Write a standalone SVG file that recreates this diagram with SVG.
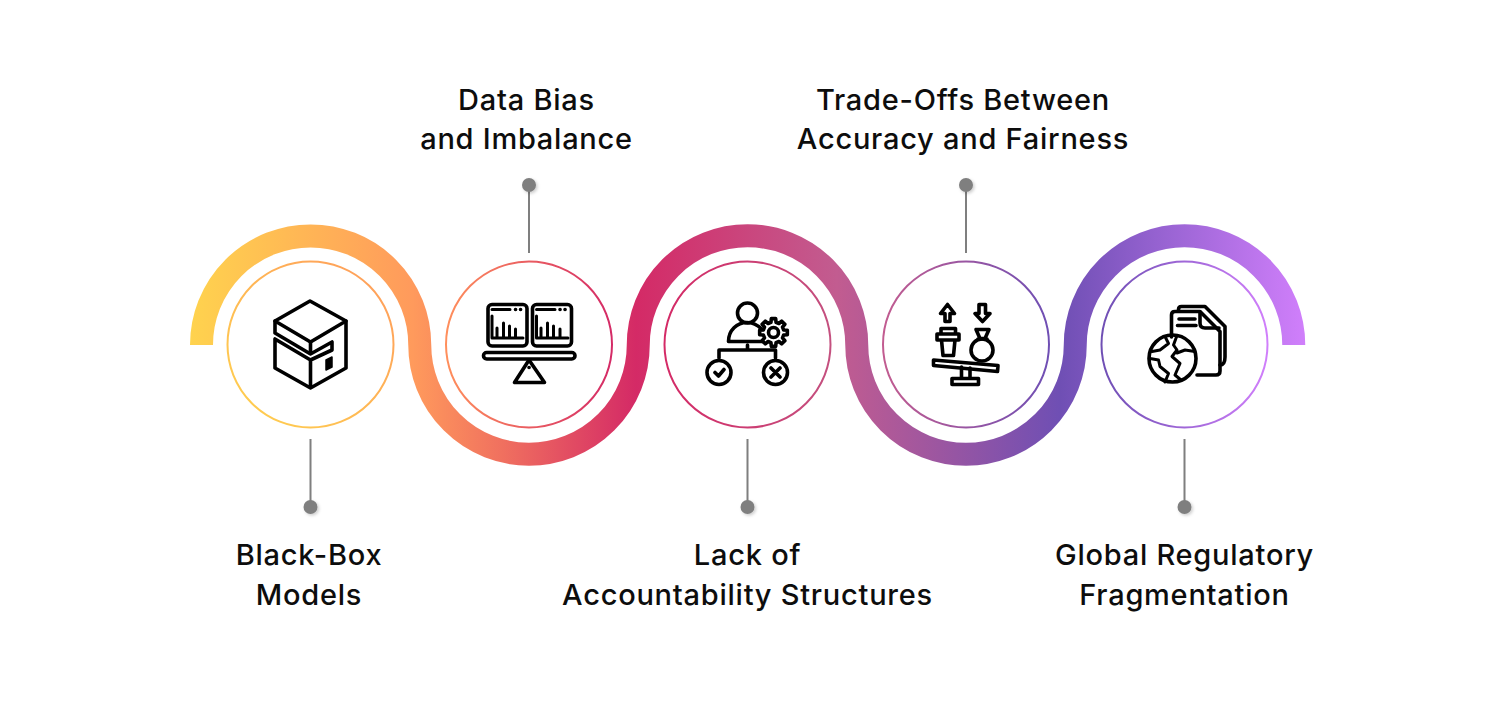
<svg xmlns="http://www.w3.org/2000/svg" width="1501" height="713" viewBox="0 0 1501 713">
<style>
.lbl{font-family:Inter,"Liberation Sans",sans-serif;font-size:29px;font-weight:500;letter-spacing:.75px;fill:#0d0d0d;text-anchor:middle}
.ring{fill:#fff;stroke-width:2}
.ico{fill:none;stroke:#000;stroke-width:3.6;stroke-linejoin:round;stroke-linecap:round}
.thin{stroke-width:3}
.lead{stroke:#7f7f7f;stroke-width:2;fill:none}
.dot{fill:#7f7f7f;filter:url(#sh)}
</style>
<defs>
<filter id="sh" x="-50%" y="-50%" width="200%" height="200%"><feDropShadow dx="1.5" dy="1.5" stdDeviation="1.5" flood-color="#000" flood-opacity=".2"/></filter>
<linearGradient id="rib" gradientUnits="userSpaceOnUse" x1="190" y1="0" x2="1305" y2="0">
<stop offset="0" stop-color="#FFD34E"/><stop offset=".2" stop-color="#FF9A5C"/><stop offset=".28" stop-color="#F0705F"/><stop offset=".4" stop-color="#D42A66"/><stop offset=".58" stop-color="#C25C90"/><stop offset=".78" stop-color="#6F4FB4"/><stop offset="1" stop-color="#D07FFB"/>
</linearGradient>
<linearGradient id="r1" x1="0" y1="1" x2="1" y2="0"><stop offset="0" stop-color="#FFD34E"/><stop offset="1" stop-color="#FF9A5C"/></linearGradient>
<linearGradient id="r2" x1="0" y1="0" x2="1" y2="0"><stop offset="0" stop-color="#FF8F5C"/><stop offset="1" stop-color="#D42A66"/></linearGradient>
<linearGradient id="r3" x1="0" y1="0" x2="1" y2="0"><stop offset="0" stop-color="#D42A66"/><stop offset="1" stop-color="#C4507F"/></linearGradient>
<linearGradient id="r4" x1="0" y1="0" x2="1" y2="0"><stop offset="0" stop-color="#C25C90"/><stop offset="1" stop-color="#6F4FB4"/></linearGradient>
<linearGradient id="r5" x1="0" y1="0" x2="1" y2="0"><stop offset="0" stop-color="#6F4FB4"/><stop offset="1" stop-color="#D07FFB"/></linearGradient>
</defs>
<rect width="1501" height="713" fill="#fff"/>
<g id="connectors">
<path d="M201.5 345A109 109 0 0 1 419.75 345A109.25 109.25 0 0 0 638.25 345A109.25 109.25 0 0 1 856.75 345A109.25 109.25 0 0 0 1075.25 345A109.25 109.25 0 0 1 1293.75 345" fill="none" stroke="url(#rib)" stroke-width="23"/>
<path class="lead" d="M310.5 439V507M529 185V253M747.500 439V507M966 185V253M1184.500 439V507"/>
</g>
<g id="node-black-box">
<circle class="ring" cx="310.500" cy="344.500" r="83" stroke="url(#r1)"/>
<g class="ico">
<path d="M310 301L346 321L310.500 342L275 321Z"/>
<path d="M275 321V333L310.500 354L332 342V350L310.500 360L275 339V368L310.500 388L346 368V321M310.500 342V354M310.500 360V388"/>
<path d="M326 360L332 357V367L326 370Z" fill="#000" stroke-width="1.500"/>
</g>
<circle class="dot" cx="310.500" cy="507" r="7"/>
<text class="lbl" x="309" y="565">Black-Box</text>
<text class="lbl" x="309" y="605">Models</text>
</g>
<g id="node-data-bias">
<circle class="ring" cx="529" cy="344.500" r="83" stroke="url(#r2)"/>
<g class="ico">
<rect x="488" y="304.500" width="39" height="41.500" rx="4"/>
<rect x="532.500" y="304.500" width="39" height="41.500" rx="4"/>
<rect x="483.500" y="352.500" width="91.500" height="6.500" rx="3.200"/>
<path d="M529 360L514.500 382.500H544.500Z"/>
<path class="thin" d="M492 309.500H510M492 316V338H523M497 337V328M503.500 337V323M509.500 337V326M515.500 337V329M536.500 309.500H555M536.500 316V338H568M541 337V328M547.500 337V323M553.500 337V326M560 337V329"/>
<path d="M515.500 309.500h.1M520.500 309.500h.1M560 309.500h.1M565 309.500h.1M529 367.500h.1"/>
</g>
<circle class="dot" cx="529" cy="185" r="7"/>
<text class="lbl" x="526.500" y="110">Data Bias</text>
<text class="lbl" x="526.500" y="149">and Imbalance</text>
</g>
<g id="node-accountability">
<circle class="ring" cx="747.500" cy="344.500" r="83" stroke="url(#r3)"/>
<g class="ico">
<circle cx="747.500" cy="313" r="10"/>
<path d="M728.500 341.500C728.500 330 737 322.500 747 322.500C753 322.500 758 325.500 761.500 329M728.500 341.500H763"/>
<path transform="translate(773.500 332.500)" fill="#fff" d="M10.190 -2.540L13.830 -2.190L13.830 2.190L10.190 2.540L9 5.410L11.330 8.230L8.230 11.330L5.410 9L2.540 10.190L2.190 13.830L-2.190 13.830L-2.540 10.190L-5.410 9L-8.230 11.330L-11.330 8.230L-9 5.410L-10.190 2.540L-13.830 2.190L-13.830 -2.190L-10.190 -2.540L-9 -5.410L-11.330 -8.230L-8.230 -11.330L-5.410 -9L-2.540 -10.190L-2.190 -13.830L2.190 -13.830L2.540 -10.190L5.410 -9L8.230 -11.330L11.330 -8.230L9 -5.410Z"/>
<circle cx="773.500" cy="332.500" r="5"/>
<path d="M747.500 345V350M719 358V350H775.500V358"/>
<circle cx="719" cy="372.500" r="12"/>
<circle cx="775.500" cy="372.500" r="12"/>
<path d="M715 372.500L718.500 376L724 369.500M771 368L780 377M780 368L771 377"/>
</g>
<circle class="dot" cx="747.500" cy="507" r="7"/>
<text class="lbl" x="747.500" y="565">Lack of</text>
<text class="lbl" x="747.500" y="605">Accountability Structures</text>
</g>
<g id="node-trade-offs">
<circle class="ring" cx="966" cy="344.500" r="83" stroke="url(#r4)"/>
<g class="ico">
<path d="M947.500 304.500L954.500 313.500H950V321.500H945V313.500H940.500Z"/>
<path d="M979 304.500H985.500V313.500H990L982.500 321.500L975 313.500H979Z"/>
<path d="M941 334V328.500H955.500V334M937 334H959V340H937ZM941.500 340L943 355.500H953.500L955 340"/>
<circle cx="982" cy="350" r="11"/>
<path d="M980 338.500L976 329.500H989L985 338.500ZM978 339H987"/>
<path d="M933.500 360L998 365.500L997.500 371.500L933.500 365.500Z"/>
<path d="M961.500 367V378.500M970 368V378.500M952 378.500H978.500V384.500H952Z"/>
</g>
<circle class="dot" cx="966" cy="185" r="7"/>
<text class="lbl" x="963" y="110">Trade-Offs Between</text>
<text class="lbl" x="963" y="149">Accuracy and Fairness</text>
</g>
<g id="node-regulatory">
<circle class="ring" cx="1184.500" cy="344.500" r="83" stroke="url(#r5)"/>
<g class="ico">
<path d="M1178.500 311V309.500Q1178.500 306.500 1181.500 306.500H1205L1225 326.500V357Q1225 365 1220 365"/>
<path d="M1171.500 337V315Q1171.500 311.500 1175 311.500H1200L1220 331.500V371Q1220 375 1216 375H1197"/>
<path d="M1200 312V323Q1200 328 1205 328H1219M1179 319H1195M1177.500 325.500H1196"/>
<circle cx="1172.500" cy="358.500" r="23.500"/>
<path class="thin" d="M1165 336.500L1168.500 343.500L1160 350L1152 351.500M1177 335.500L1173.500 345L1177 350L1172 356.500L1180 363.500L1175 375L1181 380M1195 351.500L1185 350L1177 353M1150 358.500L1158.500 360L1160 366.500L1168.500 373.500L1165 382"/>
</g>
<circle class="dot" cx="1184.500" cy="507" r="7"/>
<text class="lbl" x="1184.500" y="565">Global Regulatory</text>
<text class="lbl" x="1184.500" y="605">Fragmentation</text>
</g>
</svg>
